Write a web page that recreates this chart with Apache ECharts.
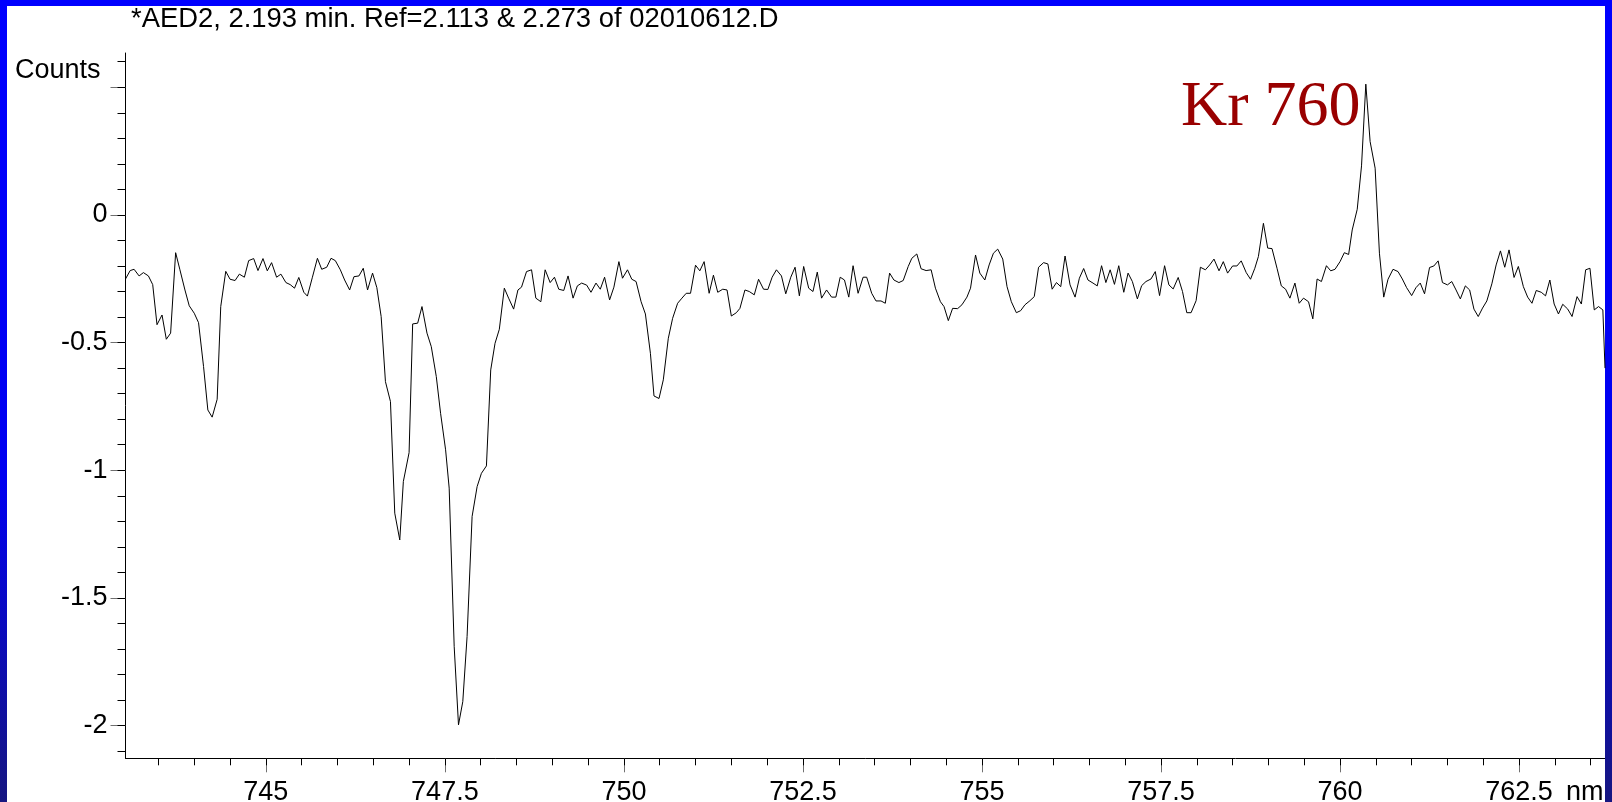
<!DOCTYPE html>
<html>
<head>
<meta charset="utf-8">
<title>AED2 spectrum</title>
<script src="https://cdn.jsdelivr.net/npm/echarts@6/dist/echarts.min.js"></script>
<style>
  html, body { margin: 0; padding: 0; background: #fff; }
  #chart { width: 1612px; height: 802px; }
</style>
</head>
<body>
<div id="chart"></div>
<script>
// wavelength (nm) of each sample
const nm = [
  743.04, 743.105, 743.16, 743.23, 743.29, 743.36, 743.42, 743.48, 743.55, 743.61,
  743.67, 743.74, 743.80, 743.87, 743.93, 744.00, 744.06, 744.13, 744.19, 744.25,
  744.32, 744.37, 744.44, 744.50, 744.57, 744.63, 744.70, 744.76, 744.83, 744.89,
  744.96, 745.02, 745.08, 745.15, 745.21, 745.28, 745.34, 745.40, 745.46, 745.53,
  745.58, 745.65, 745.72, 745.78, 745.85, 745.91, 745.97, 746.04, 746.10, 746.17,
  746.23, 746.30, 746.36, 746.42, 746.49, 746.55,
  746.61, 746.67, 746.74, 746.80, 746.87, 746.92, 747.00, 747.05, 747.12, 747.18,
  747.25, 747.31, 747.38, 747.44, 747.51, 747.56, 747.63, 747.69, 747.75, 747.81,
  747.88, 747.95, 748.01, 748.08, 748.14, 748.20, 748.26, 748.33, 748.39, 748.46,
  748.52, 748.57,
  748.64, 748.71, 748.77, 748.84, 748.90, 748.97, 749.03, 749.09, 749.16, 749.22,
  749.29, 749.35, 749.41, 749.48, 749.54, 749.61, 749.67, 749.73, 749.80, 749.86,
  749.93,
  749.98, 750.05, 750.11, 750.17, 750.24, 750.30, 750.37, 750.42, 750.49, 750.55,
  750.62, 750.68, 750.75, 750.81, 750.87, 750.93, 751.00, 751.06, 751.12, 751.19,
  751.25, 751.31, 751.38, 751.44, 751.50, 751.57, 751.62, 751.69, 751.75, 751.82,
  751.88, 751.95, 752.01, 752.07, 752.13, 752.20, 752.26, 752.33, 752.39, 752.45,
  752.51, 752.58, 752.64, 752.70, 752.76, 752.83, 752.90, 752.96, 753.02, 753.08,
  753.14, 753.20, 753.27,
  753.34, 753.39, 753.46, 753.52, 753.59, 753.65, 753.71, 753.77, 753.84, 753.90,
  753.97, 754.02, 754.09, 754.15, 754.22, 754.29, 754.35, 754.42, 754.47, 754.53,
  754.59, 754.66, 754.72, 754.79, 754.84, 754.91, 754.97, 755.04, 755.10, 755.16,
  755.22, 755.29, 755.35, 755.41, 755.48, 755.54, 755.60, 755.67, 755.73, 755.79,
  755.86, 755.92, 755.98, 756.04, 756.10, 756.16, 756.23, 756.30, 756.36, 756.42,
  756.48, 756.55, 756.61, 756.67, 756.73, 756.79,
  756.85, 756.91, 756.98, 757.04, 757.10, 757.17, 757.23, 757.29, 757.36, 757.42,
  757.48, 757.55, 757.61, 757.67, 757.74, 757.80, 757.86, 757.92, 757.99, 758.05,
  758.12, 758.18, 758.24, 758.31, 758.37, 758.43, 758.50, 758.56, 758.62, 758.69,
  758.75, 758.81, 758.86, 758.93, 758.99, 759.05, 759.12, 759.18, 759.24, 759.30,
  759.37, 759.43, 759.49, 759.56, 759.62, 759.68, 759.74, 759.81, 759.87, 759.93,
  760.00, 760.06, 760.12, 760.17, 760.24, 760.30, 760.36, 760.42, 760.49, 760.55,
  760.61, 760.67, 760.74, 760.81, 760.87, 760.93, 761.00, 761.06, 761.12, 761.18,
  761.25, 761.31, 761.37, 761.43, 761.50, 761.56, 761.62, 761.68, 761.75, 761.81,
  761.87, 761.93, 761.99, 762.05, 762.12, 762.18, 762.24, 762.30, 762.36, 762.43,
  762.49, 762.56, 762.62, 762.68, 762.74, 762.81, 762.87, 762.93, 762.99, 763.05,
  763.11, 763.18, 763.24, 763.31, 763.37, 763.43, 763.49, 763.55, 763.61, 763.67,
  763.70
]

// signal at each wavelength
const counts = [
  -0.251, -0.218, -0.213, -0.239, -0.226, -0.239, -0.273, -0.430, -0.392, -0.487,
  -0.463, -0.148, -0.215, -0.294, -0.356, -0.385, -0.422, -0.594, -0.764, -0.792,
  -0.722, -0.359, -0.221, -0.252, -0.257, -0.232, -0.244, -0.179, -0.171, -0.218,
  -0.171, -0.219, -0.187, -0.244, -0.232, -0.265, -0.273, -0.287, -0.245, -0.303,
  -0.318, -0.244, -0.170, -0.213, -0.205, -0.170, -0.179, -0.215, -0.255, -0.294,
  -0.242, -0.239, -0.209, -0.294, -0.228, -0.285,
  -0.398, -0.653, -0.731, -1.168, -1.273, -1.044, -0.931, -0.427, -0.424, -0.359,
  -0.463, -0.516, -0.633, -0.777, -0.920, -1.070, -1.691, -1.997, -1.906, -1.651,
  -1.181, -1.064, -1.012, -0.983, -0.607, -0.503, -0.448, -0.287, -0.326, -0.369,
  -0.294, -0.283,
  -0.222, -0.215, -0.326, -0.340, -0.215, -0.265, -0.244, -0.291, -0.296, -0.239,
  -0.326, -0.278, -0.267, -0.275, -0.303, -0.267, -0.291, -0.244, -0.333, -0.283,
  -0.183,
  -0.248, -0.215, -0.252, -0.261, -0.340, -0.388, -0.542, -0.709, -0.719, -0.646,
  -0.483, -0.405, -0.346, -0.326, -0.307, -0.307, -0.197, -0.219, -0.183, -0.307,
  -0.236, -0.303, -0.291, -0.294, -0.396, -0.383, -0.366, -0.294, -0.300, -0.313,
  -0.252, -0.291, -0.292, -0.244, -0.215, -0.239, -0.309, -0.244, -0.205, -0.317,
  -0.202, -0.287, -0.300, -0.224, -0.326, -0.294, -0.322, -0.322, -0.244, -0.255,
  -0.322, -0.199, -0.307,
  -0.244, -0.244, -0.307, -0.337, -0.337, -0.346, -0.228, -0.255, -0.265, -0.257,
  -0.202, -0.170, -0.153, -0.211, -0.218, -0.215, -0.287, -0.340, -0.359, -0.414,
  -0.366, -0.367, -0.352, -0.322, -0.287, -0.157, -0.228, -0.255, -0.196, -0.150,
  -0.134, -0.173, -0.281, -0.340, -0.383, -0.375, -0.352, -0.336, -0.320, -0.205,
  -0.187, -0.192, -0.291, -0.265, -0.281, -0.161, -0.274, -0.322, -0.248, -0.210,
  -0.255, -0.267, -0.278, -0.199, -0.265, -0.215,
  -0.272, -0.199, -0.303, -0.228, -0.261, -0.329, -0.277, -0.261, -0.251, -0.222,
  -0.316, -0.199, -0.274, -0.290, -0.245, -0.300, -0.383, -0.383, -0.336, -0.205,
  -0.215, -0.196, -0.173, -0.219, -0.183, -0.228, -0.200, -0.200, -0.180, -0.226,
  -0.252, -0.209, -0.163, -0.033, -0.130, -0.132, -0.209, -0.278, -0.291, -0.326,
  -0.267, -0.346, -0.326, -0.340, -0.407, -0.251, -0.261, -0.199, -0.219, -0.213,
  -0.183, -0.148, -0.155, -0.059, 0.022, 0.192, 0.512, 0.287, 0.183, -0.150,
  -0.322, -0.252, -0.213, -0.222, -0.251, -0.285, -0.316, -0.285, -0.267, -0.309,
  -0.206, -0.200, -0.180, -0.265, -0.274, -0.261, -0.294, -0.329, -0.278, -0.294,
  -0.369, -0.398, -0.365, -0.337, -0.270, -0.196, -0.141, -0.205, -0.137, -0.245,
  -0.202, -0.281, -0.322, -0.346, -0.296, -0.303, -0.317, -0.255, -0.349, -0.388,
  -0.350, -0.369, -0.398, -0.320, -0.349, -0.215, -0.209, -0.372, -0.359, -0.372,
  -0.600
]

const xMajor = [745, 747.5, 750, 752.5, 755, 757.5, 760, 762.5]
const xMinor = [743.5, 744, 744.5, 745, 745.5, 746, 746.5, 747, 747.5, 748, 748.5, 749, 749.5, 750,
  750.5, 751, 751.5, 752, 752.5, 753, 753.5, 754, 754.5, 755, 755.5, 756, 756.5, 757, 757.5, 758,
  758.5, 759, 759.5, 760, 760.5, 761, 761.5, 762, 762.5, 763, 763.5]
const yMajor = [-2, -1.5, -1, -0.5, 0, 0.5]
const yLabels = [-2, -1.5, -1, -0.5, 0]
const yMinor = [-2.1, -2, -1.9, -1.8, -1.7, -1.6, -1.5, -1.4, -1.3, -1.2, -1.1, -1, -0.9, -0.8, -0.7,
  -0.6, -0.5, -0.4, -0.3, -0.2, -0.1, 0, 0.1, 0.2, 0.3, 0.4, 0.5, 0.6]

const xRange = { min: 743.04, max: 763.7 }
const yRange = { min: -2.128, max: 0.634 }

const sans = '"Liberation Sans", Arial, sans-serif'
const blueEdge = {
  type: 'linear', x: 0, y: 0, x2: 0, y2: 1,
  colorStops: [
    { offset: 0, color: '#0000ff' },
    { offset: 0.6, color: '#0000f0' },
    { offset: 1, color: '#161680' },
  ],
}

const chart = echarts.init(document.getElementById('chart'))
chart.setOption({
  animation: false,
  backgroundColor: '#fff',
  grid: { left: 125.5, right: 7, top: 53, bottom: 43.7, containLabel: false, outerBoundsMode: 'none' },
  xAxis: [
    {
      type: 'value',
      ...xRange,
      position: 'bottom',
      axisLine: { show: true, onZero: false, lineStyle: { color: '#000', width: 1 } },
      axisTick: { show: true, customValues: xMajor, length: 14, lineStyle: { color: '#707070', width: 1 } },
      axisLabel: { customValues: xMajor, fontSize: 27, fontFamily: sans, color: '#000', margin: 21 },
      splitLine: { show: false },
    },
    {
      type: 'value',
      ...xRange,
      position: 'bottom',
      axisLine: { show: false, onZero: false },
      axisTick: { show: true, customValues: xMinor, length: 7, lineStyle: { color: '#000', width: 1 } },
      axisLabel: { show: false },
      splitLine: { show: false },
    },
  ],
  yAxis: [
    {
      type: 'value',
      ...yRange,
      position: 'left',
      axisLine: { show: true, onZero: false, lineStyle: { color: '#000', width: 1 } },
      axisTick: { show: true, customValues: yMajor, length: 15, lineStyle: { color: '#707070', width: 1 } },
      axisLabel: { customValues: yLabels, fontSize: 27, fontFamily: sans, color: '#000', margin: 18 },
      splitLine: { show: false },
    },
    {
      type: 'value',
      ...yRange,
      position: 'left',
      axisLine: { show: false, onZero: false },
      axisTick: { show: true, customValues: yMinor, length: 8, lineStyle: { color: '#000', width: 1 } },
      axisLabel: { show: false },
      splitLine: { show: false },
    },
  ],
  series: [
    {
      type: 'line',
      data: nm.map((w, i) => [w, counts[i]]),
      showSymbol: false,
      symbol: 'none',
      lineStyle: { color: '#000', width: 1 },
      z: 3,
    },
  ],
  graphic: [
    { type: 'rect', shape: { x: 0, y: 0, width: 7, height: 802 }, style: { fill: blueEdge }, z: 1 },
    { type: 'rect', shape: { x: 1605, y: 0, width: 7, height: 802 }, style: { fill: blueEdge }, z: 1 },
    { type: 'rect', shape: { x: 0, y: 0, width: 1612, height: 6 }, style: { fill: '#0000ff' }, z: 1 },
    {
      type: 'text', x: 131, y: 19.5,
      style: { text: '*AED2, 2.193 min. Ref=2.113 & 2.273 of 02010612.D', font: '27.4px ' + sans, fill: '#000', align: 'left', verticalAlign: 'middle' },
    },
    {
      type: 'text', x: 15, y: 71,
      style: { text: 'Counts', font: '27px ' + sans, fill: '#000', align: 'left', verticalAlign: 'middle' },
    },
    {
      type: 'text', x: 1566, y: 793,
      style: { text: 'nm', font: '27px ' + sans, fill: '#000', align: 'left', verticalAlign: 'middle' },
    },
    {
      type: 'text', x: 1181, y: 108,
      style: { text: 'Kr 760', font: '64px "Liberation Serif", "Times New Roman", serif', fill: '#990000', align: 'left', verticalAlign: 'middle' },
    },
  ],
})
</script>
</body>
</html>
